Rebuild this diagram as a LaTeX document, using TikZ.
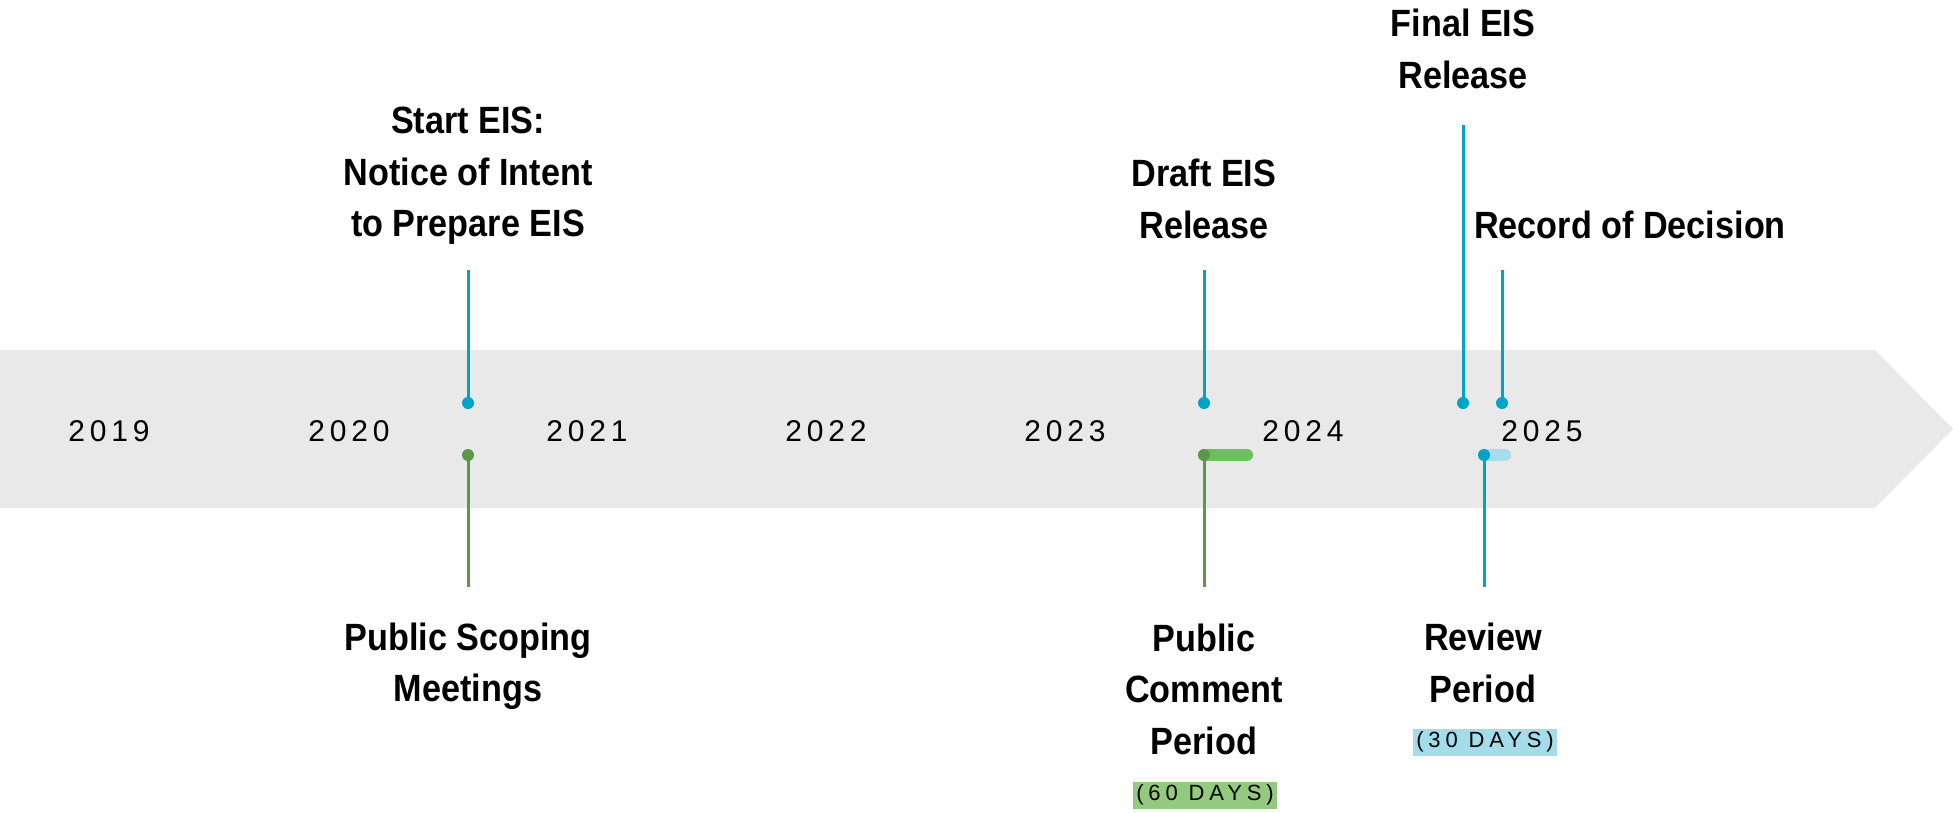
\documentclass[tikz,border=0pt]{standalone}
\usepackage{fontspec}
\setmainfont{Liberation Sans}
\newfontfamily\headfont[FakeStretch=0.9]{Liberation Sans}
\newfontfamily\yearfont[LetterSpace=16]{Liberation Sans}
\newfontfamily\dayfont[LetterSpace=22]{Liberation Sans}
\definecolor{bandgray}{RGB}{233,233,233}
\definecolor{eisblue}{RGB}{0,163,200}
\definecolor{eisgreen}{RGB}{90,154,70}
\definecolor{bargreen}{RGB}{107,191,95}
\definecolor{boxgreen}{RGB}{148,202,128}
\definecolor{barblue}{RGB}{168,220,234}
\definecolor{boxblue}{RGB}{165,220,234}
\tikzset{
  head/.style={font=\headfont\bfseries\fontsize{38}{51.5}\selectfont, align=center, inner sep=0pt},
  year/.style={font=\yearfont\fontsize{30}{34}\selectfont, inner sep=0pt},
  days/.style={font=\dayfont\fontsize{22}{25}\selectfont, inner sep=0pt, minimum height=27pt, minimum width=144pt},
  bdot/.style={circle, fill=eisblue, inner sep=0pt, minimum size=12pt},
  gdot/.style={circle, fill=eisgreen, inner sep=0pt, minimum size=12pt},
  bline/.style={draw=eisblue, line width=3pt},
  gline/.style={draw=eisgreen, line width=3pt},
}
\begin{document}
\begin{tikzpicture}[x=1pt,y=-1pt]
\useasboundingbox (0,0) rectangle (1953,812);
\fill[bandgray] (0,350) -- (1875,350) -- (1953,429) -- (1875,508) -- (0,508) -- cycle;
% years
\foreach \yr/\xx in {2019/109,2020/349,2021/587,2022/826,2023/1065,2024/1303,2025/1542}
  \node[year] (y\yr) at (\xx,431) {\yr};
% line ends
\coordinate (tS) at (468,270);
\coordinate (bS) at (468,587);
\coordinate (tD) at (1204,270);
\coordinate (bC) at (1204,587);
\coordinate (tF) at (1463,125);
\coordinate (tR) at (1502,270);
\coordinate (bV) at (1484,587);
\coordinate (eC) at (1247,455);
\coordinate (eV) at (1505,455);
% bars
\draw[bargreen, line width=12pt, line cap=round] (1204,455) -- (eC);
\draw[barblue, line width=12pt, line cap=round] (1484,455) -- (eV);
% dots
\node[bdot] (dS) at (468,403) {};
\node[gdot] (dP) at (468,455) {};
\node[bdot] (dD) at (1204,403) {};
\node[gdot] (dC) at (1204,455) {};
\node[bdot] (dF) at (1463,403) {};
\node[bdot] (dR) at (1502,403) {};
\node[bdot] (dV) at (1484,455) {};
% connectors
\draw[bline] (tS) -- (dS.center);
\draw[gline] (dP.center) -- (bS);
\draw[bline] (tD) -- (dD.center);
\draw[gline] (dC.center) -- (bC);
\draw[bline] (tF) -- (dF.center);
\draw[bline] (tR) -- (dR.center);
\draw[bline] (dV.center) -- (bV);
% labels
\node[head] (lS) at (468,176) {Start EIS:\\Notice of Intent\\to Prepare EIS};
\node[head] (lP) at (468,666) {Public Scoping\\Meetings};
\node[head] (lD) at (1204,199) {Draft EIS\\Release};
\node[head] (lC) at (1204,689) {Public\\Comment\\Period};
\node[head] (lF) at (1463,49) {Final EIS\\Release};
\node[head] (lR) at (1630,225) {Record of Decision};
\node[head] (lV) at (1483,663) {Review\\Period};
\node[days, fill=boxgreen] (d60) at (1205,795) {(60 DAYS)};
\node[days, fill=boxblue] (d30) at (1485,742) {(30 DAYS)};
\end{tikzpicture}
\end{document}
